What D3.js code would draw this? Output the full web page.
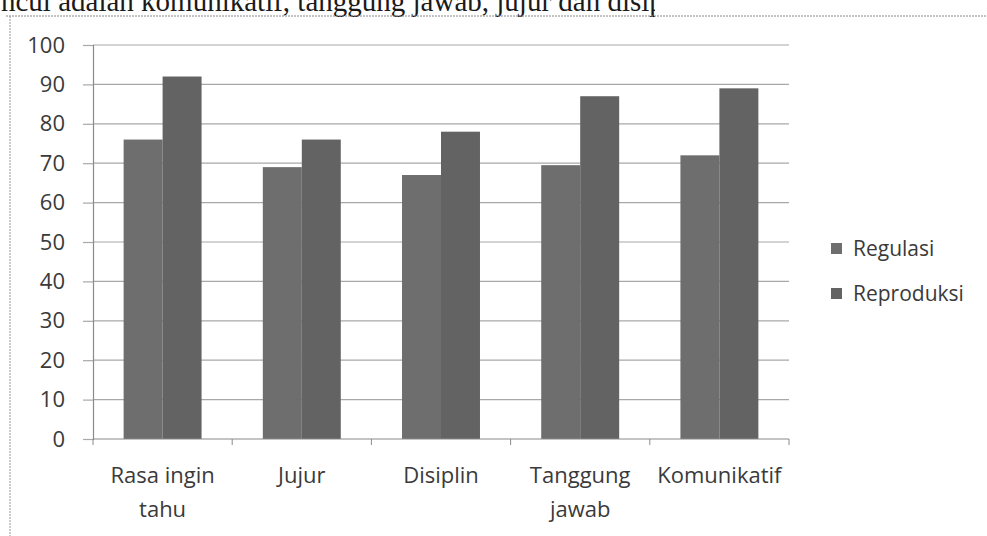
<!DOCTYPE html>
<html>
<head>
<meta charset="utf-8">
<script src="https://cdn.jsdelivr.net/npm/d3@7"></script>
<style>
  body { margin: 0; background: #fff; }
  svg { display: block; }
</style>
</head>
<body>
<svg width="987" height="536"></svg>
<script>
// Chart data
const categories = ["Rasa ingin tahu", "Jujur", "Disiplin", "Tanggung jawab", "Komunikatif"];
const tickLabels = [["Rasa ingin", "tahu"], ["Jujur"], ["Disiplin"], ["Tanggung", "jawab"], ["Komunikatif"]];
const seriesNames = ["Regulasi", "Reproduksi"];
const regulasi = [76, 69, 67, 69.5, 72];
const reproduksi = [92, 76, 78, 87, 89];
const yTicks = [0, 10, 20, 30, 40, 50, 60, 70, 80, 90, 100];
const captionText = "ncul adalah komunikatif, tanggung jawab, jujur dan disiplin.";

const colors = { Regulasi: "#6e6e6e", Reproduksi: "#636363" };
const textColor = "#3a3a3a";
const font = "'Open Sans', sans-serif";

const svg = d3.select("svg");

// Scanned page: caption cut at the top (and fading out), dotted frame
svg.append("clipPath")
   .attr("id", "capClip")
   .append("rect")
   .attr("x", 0).attr("y", 0)
   .attr("width", 655).attr("height", 30);

svg.append("text")
   .attr("x", 1)
   .attr("y", 11)
   .attr("clip-path", "url(#capClip)")
   .attr("font-family", "'Liberation Serif', serif")
   .attr("font-size", 29)
   .attr("fill", "#1a1a1a")
   .text(captionText);

svg.append("line")
   .attr("x1", 6).attr("x2", 987)
   .attr("y1", 16).attr("y2", 16)
   .attr("stroke", "#888")
   .attr("stroke-dasharray", "2,1");
svg.append("line")
   .attr("x1", 10).attr("x2", 10)
   .attr("y1", 16).attr("y2", 536)
   .attr("stroke", "#999")
   .attr("stroke-dasharray", "2,1");

// Plot area
const plotLeft = 93, plotRight = 789, plotTop = 45, plotBottom = 439;

var x0 = d3.scaleBand()
           .domain(categories)
           .range([plotLeft, plotRight])
           .paddingInner(0.44)
           .paddingOuter(0.22);
var x1 = d3.scaleBand()
           .domain(seriesNames)
           .range([0, x0.bandwidth()]);
var y = d3.scaleLinear()
          .domain([0, 100])
          .range([plotBottom, plotTop]);

// Gridlines
svg.append("g")
   .selectAll("line")
   .data(yTicks.slice(1))
   .join("line")
   .attr("x1", plotLeft).attr("x2", plotRight)
   .attr("y1", d => y(d)).attr("y2", d => y(d))
   .attr("stroke", "#a8a8a8")
   .attr("stroke-width", 1.2);

// Bars
var rows = categories.map((c, i) => ({ cat: c, values: [
    { key: "Regulasi", value: regulasi[i] },
    { key: "Reproduksi", value: reproduksi[i] }
]}));

svg.append("g")
   .selectAll("g")
   .data(rows)
   .join("g")
   .attr("transform", d => "translate(" + x0(d.cat) + ",0)")
   .selectAll("rect")
   .data(d => d.values)
   .join("rect")
   .attr("x", d => x1(d.key))
   .attr("width", x1.bandwidth())
   .attr("y", d => y(d.value))
   .attr("height", d => y(0) - y(d.value))
   .attr("fill", d => colors[d.key]);

// Y axis
var yAxis = svg.append("g")
   .attr("transform", "translate(" + plotLeft + ",0)")
   .call(d3.axisLeft(y).tickValues(yTicks).tickSize(10).tickPadding(18));
yAxis.select(".domain").attr("stroke", "#8a8a8a").attr("stroke-width", 1.2);
yAxis.selectAll(".tick line").attr("stroke", "#a8a8a8").attr("stroke-width", 1.2);
yAxis.selectAll("text")
     .attr("font-family", font)
     .attr("font-size", 22)
     .attr("fill", textColor);

// X axis: baseline, ticks on category boundaries, wrapped labels
var step = x0.step();
svg.append("line")
   .attr("x1", plotLeft).attr("x2", plotRight)
   .attr("y1", y(0)).attr("y2", y(0))
   .attr("stroke", "#8a8a8a")
   .attr("stroke-width", 1.2);
svg.append("g")
   .selectAll("line")
   .data(d3.range(categories.length + 1))
   .join("line")
   .attr("x1", i => plotLeft + i * step).attr("x2", i => plotLeft + i * step)
   .attr("y1", y(0)).attr("y2", y(0) + 6)
   .attr("stroke", "#8a8a8a");

svg.append("g")
   .selectAll("text")
   .data(categories)
   .join("text")
   .attr("x", d => x0(d) + x0.bandwidth() / 2)
   .attr("y", 483)
   .attr("text-anchor", "middle")
   .attr("font-family", font)
   .attr("font-size", 22)
   .attr("fill", textColor)
   .selectAll("tspan")
   .data((d, i) => tickLabels[i])
   .join("tspan")
   .attr("x", function() { return d3.select(this.parentNode).attr("x"); })
   .attr("dy", (d, i) => i === 0 ? 0 : 34)
   .text(d => d);

// Legend
var legend = svg.append("g")
   .selectAll("g")
   .data(seriesNames)
   .join("g")
   .attr("transform", (d, i) => "translate(831," + (243 + i * 45) + ")");
legend.append("rect")
      .attr("width", 11).attr("height", 11)
      .attr("fill", d => colors[d]);
legend.append("text")
      .attr("x", 22)
      .attr("y", 13)
      .attr("font-family", font)
      .attr("font-size", 21)
      .attr("fill", textColor)
      .text(d => d);
</script>
</body>
</html>
